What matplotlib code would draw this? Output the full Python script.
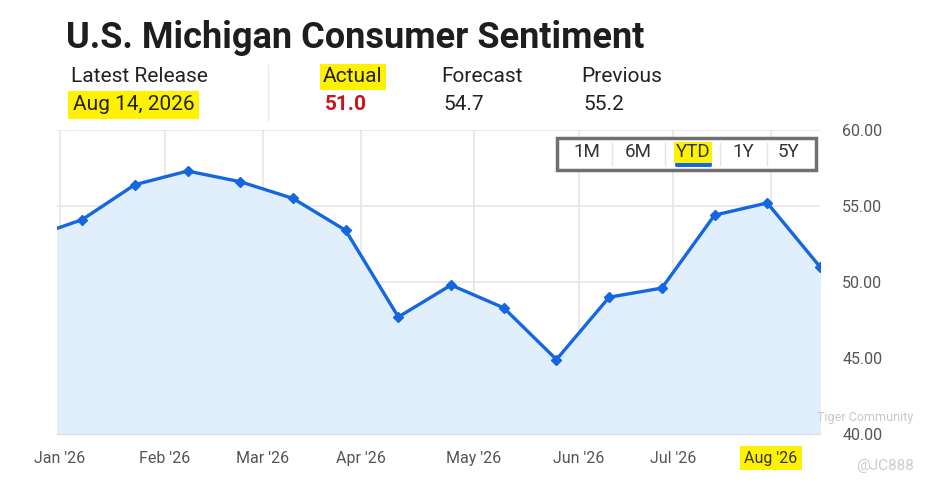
import numpy as np
import pandas as pd
import matplotlib
matplotlib.use("Agg")
import matplotlib.pyplot as plt
import matplotlib.patches as mpatches

plt.rcParams['font.family'] = ['Roboto', 'DejaVu Sans']

# data
release_dates = pd.to_datetime([
    '2026-01-16', '2026-01-30', '2026-02-13', '2026-02-27', '2026-03-13', '2026-03-27',
    '2026-04-10', '2026-04-24', '2026-05-08', '2026-05-22', '2026-06-05', '2026-06-19',
    '2026-07-03', '2026-07-17', '2026-07-31', '2026-08-14'])
sentiment = [52.9, 54.1, 56.4, 57.3, 56.6, 55.5, 53.4, 47.7, 49.8, 48.3, 44.9, 49.0,
             49.6, 54.4, 55.2, 51.0]

tick_dates = pd.to_datetime(['2026-01-24', '2026-02-21', '2026-03-19', '2026-04-14',
                             '2026-05-14', '2026-06-11', '2026-07-06', '2026-08-01'])
tick_labels = ["Jan '26", "Feb '26", "Mar '26", "Apr '26", "May '26", "Jun '26", "Jul '26", "Aug '26"]
y_ticks = [40, 45, 50, 55, 60]

title = "U.S. Michigan Consumer Sentiment"
header_names = ["Latest Release", "Actual", "Forecast", "Previous"]
header_values = ["Aug 14, 2026", "51.0", "54.7", "55.2"]
ranges = ["1M", "6M", "YTD", "1Y", "5Y"]

W, H = 933, 484
fig = plt.figure(figsize=(W / 100, H / 100), dpi=100)
fig.patch.set_facecolor('white')


def fx(px):
    return px / W


def fy(py):
    return 1 - py / H


YELLOW = '#fff200'
BLUE = '#1467e0'

ax = fig.add_axes([fx(57), fy(434), fx(820) - fx(57), fy(130) - fy(434)])
ax.fill_between(release_dates, sentiment, 40, color='#e1eefc', zorder=1)
ax.plot(release_dates, sentiment, color=BLUE, lw=2.4, marker='D', ms=5.5, zorder=3)
ax.set_xlim(pd.Timestamp('2026-01-23 08:00'), release_dates[-1])
ax.set_ylim(40, 60)
ax.set_xticks(tick_dates)
ax.set_xticklabels(tick_labels)
ax.set_yticks(y_ticks)
ax.set_yticklabels([f"{v:.2f}" for v in y_ticks])
ax.yaxis.tick_right()
ax.tick_params(axis='both', length=0, labelsize=11.5, colors='#555555')
ax.tick_params(axis='y', pad=16)
ax.tick_params(axis='x', pad=12)
ax.grid(True, color='#e6e6ea', lw=1.2, zorder=0)
ax.set_axisbelow(True)
for s in ['top', 'right', 'left']:
    ax.spines[s].set_visible(False)
ax.spines['bottom'].set_color('#d5dde8')
for lab in ax.get_xticklabels():
    if lab.get_text() == "Aug '26":
        lab.set_bbox(dict(boxstyle='square,pad=0.3', fc=YELLOW, ec='none'))
        lab.set_color('#333333')

# header
fig.text(fx(66), fy(38), title, fontsize=26, fontweight='bold', color='#1e1e1e', va='center')
name_x = [71, 323, 441, 581]
for i, (n, v) in enumerate(zip(header_names, header_values)):
    kw = {}
    if i == 1:
        kw['bbox'] = dict(boxstyle='square,pad=0.15', fc=YELLOW, ec='none')
    fig.text(fx(name_x[i]), fy(77), n, fontsize=15, color='#222222', va='center', **kw)
    vkw = {}
    if i == 0:
        vkw['bbox'] = dict(boxstyle='square,pad=0.22', fc=YELLOW, ec='none')
    color = '#c4161c' if i == 1 else '#222222'
    fig.text(fx(name_x[i] + 2), fy(105), v, fontsize=15, color=color, va='center',
             fontweight='semibold' if i == 1 else 'normal', **vkw)
fig.add_artist(plt.Line2D([fx(268), fx(268)], [fy(65), fy(120)], color='#e8e8e8', lw=1))

# range buttons
fig.add_artist(mpatches.Rectangle((fx(557), fy(170)), fx(816) - fx(557), fy(138) - fy(170),
                                  transform=fig.transFigure, fc='white', ec='#707070', lw=2.5, zorder=5))
btn_x = [587, 638, 693, 743, 788]
for sx in [612, 665, 720, 767]:
    fig.add_artist(plt.Line2D([fx(sx), fx(sx)], [fy(143), fy(165)], color='#e4e4e4', lw=1, zorder=6))
for b, bx in zip(ranges, btn_x):
    kw = {}
    if b == "YTD":
        kw['bbox'] = dict(boxstyle='square,pad=0.08', fc=YELLOW, ec='none')
    fig.text(fx(bx), fy(152), b, fontsize=13.5, color='#333333', ha='center', va='center', zorder=7, **kw)
fig.add_artist(mpatches.FancyBboxPatch((fx(677), fy(166)), fx(710) - fx(677), fy(163) - fy(166),
                                       boxstyle='round,pad=0.002', transform=fig.transFigure,
                                       fc=BLUE, ec='none', zorder=7))

# watermark
fig.text(fx(865), fy(417), "Tiger Community", fontsize=9, color='#c8c8c8', ha='center', va='center')
fig.text(fx(885), fy(466), "@JC888", fontsize=11, color='#cccccc', ha='center', va='center')

fig.savefig('out.png', dpi=100)
